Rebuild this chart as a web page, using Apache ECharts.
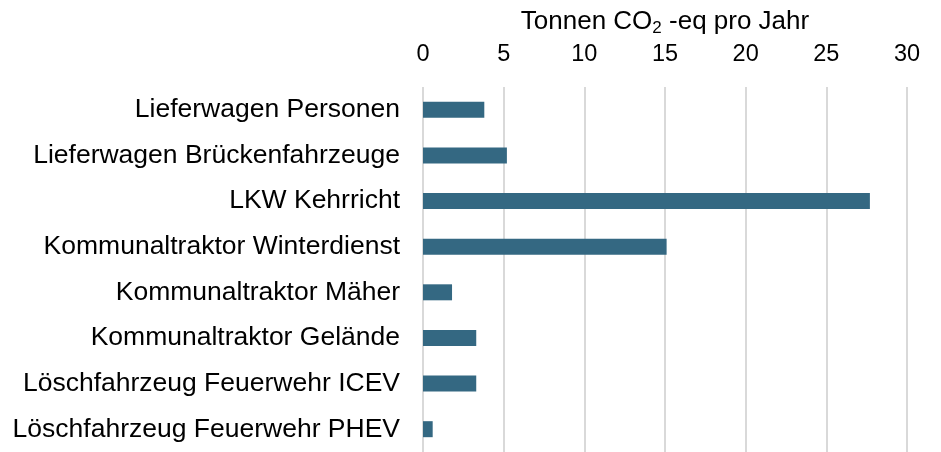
<!DOCTYPE html>
<html>
<head>
<meta charset="utf-8">
<script src="https://cdn.jsdelivr.net/npm/echarts@6/dist/echarts.min.js"></script>
<style>html,body{margin:0;padding:0;background:#fff}#c{width:941px;height:452px}</style>
</head>
<body>
<div id="c"></div>
<script>
var categories = [
  "Lieferwagen Personen",
  "Lieferwagen Brückenfahrzeuge",
  "LKW Kehrricht",
  "Kommunaltraktor Winterdienst",
  "Kommunaltraktor Mäher",
  "Kommunaltraktor Gelände",
  "Löschfahrzeug Feuerwehr ICEV",
  "Löschfahrzeug Feuerwehr PHEV"
];
var values = [3.8, 5.2, 27.7, 15.1, 1.8, 3.3, 3.3, 0.6];
var xTicks = [0, 5, 10, 15, 20, 25, 30];
var axisTitle = "Tonnen CO{sub|2} -eq pro Jahr";

var FONT = "'Liberation Sans', Arial, sans-serif";
var chart = echarts.init(document.getElementById('c'), null, {renderer: 'canvas'});
chart.setOption({
  backgroundColor: '#ffffff',
  animation: false,
  grid: {left: 423, right: 34, top: 87, bottom: -2, containLabel: false},
  xAxis: {
    type: 'value',
    position: 'top',
    min: xTicks[0],
    max: xTicks[xTicks.length - 1],
    interval: xTicks[1] - xTicks[0],
    name: axisTitle,
    nameLocation: 'middle',
    nameGap: 50,
    nameTextStyle: {
      fontFamily: FONT, fontSize: 26, color: '#000',
      rich: {sub: {fontFamily: FONT, fontSize: 17, color: '#000', padding: [13, 0, 0, 0]}}
    },
    axisLine: {show: false},
    axisTick: {show: false},
    axisLabel: {fontFamily: FONT, fontSize: 23.5, color: '#000', margin: 20},
    splitLine: {show: true, lineStyle: {color: '#d9d9d9', width: 2}}
  },
  yAxis: {
    type: 'category',
    data: categories,
    inverse: true,
    axisLine: {show: false},
    axisTick: {show: false},
    axisLabel: {fontFamily: FONT, fontSize: 26.5, color: '#000', margin: 23},
    splitLine: {show: false}
  },
  series: [{
    type: 'bar',
    data: values,
    barWidth: 16,
    itemStyle: {color: '#346882'}
  }]
});
</script>
</body>
</html>
